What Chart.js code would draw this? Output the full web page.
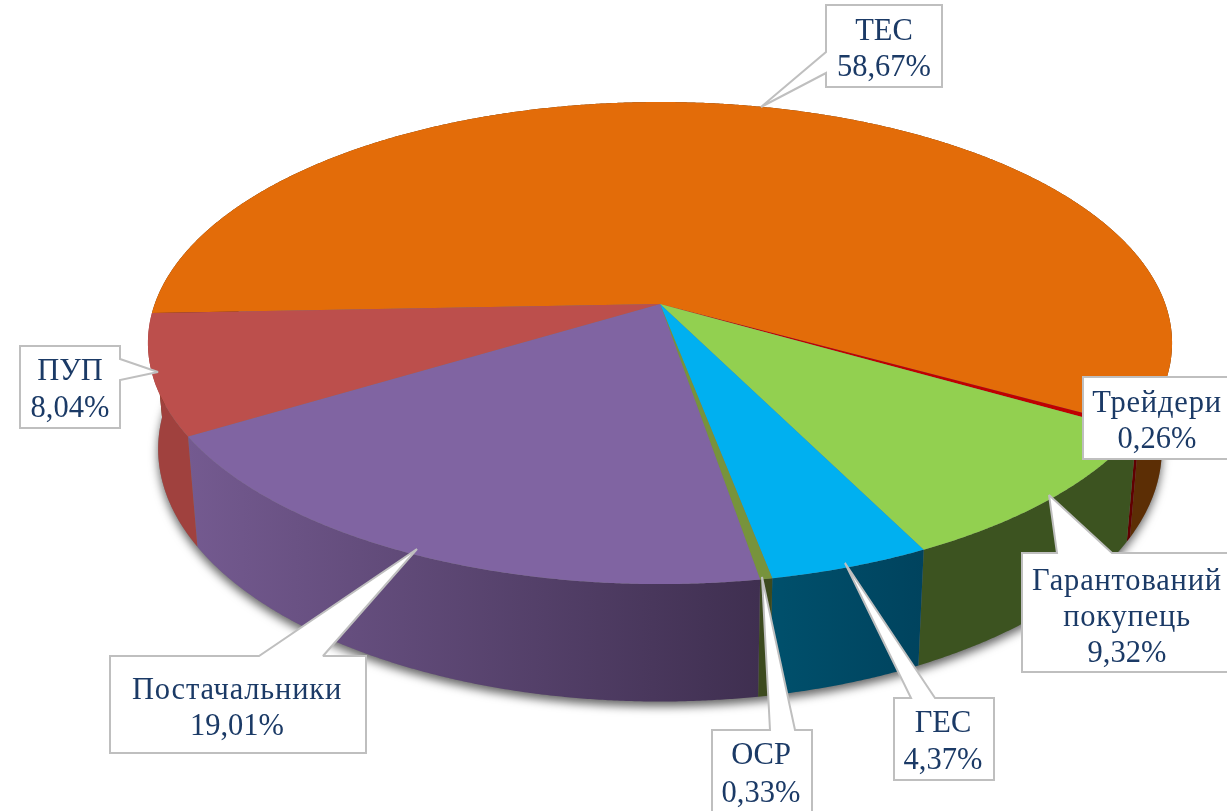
<!DOCTYPE html>
<html>
<head>
<meta charset="utf-8">
<style>html,body{margin:0;padding:0;background:#fff;overflow:hidden}canvas{display:block}</style>
<script src="https://cdn.jsdelivr.net/npm/chart.js@4"></script>
</head>
<body>
<canvas id="c" width="1227" height="811"></canvas>
<script>
const categories = ['ТЕС', 'Трейдери', 'Гарантований покупець', 'ГЕС', 'ОСР', 'Постачальники', 'ПУП'];
const shares = [58.67, 0.26, 9.32, 4.37, 0.33, 19.01, 8.04];
const topColors = ['#E36C09', '#C00000', '#92D050', '#00B0F0', '#77933C', '#8064A2', '#BC4F4C'];
const wallLeft = ['#5C2E05', '#600000', '#3C5320', '#00506C', '#3C4A1E', '#745A90', '#A0413E'];
const wallRight = ['#5C2E05', '#600000', '#3C5320', '#00435E', '#3C4A1E', '#3F2F50', '#A0413E'];

// Callout layout: box x0,y0,x1,y1; pointer tip; pointer base points; text centre; baselines
const callouts = [
  {box:[826,5,942,87], tip:[761,107], side:'l', base:[52,73], cx:884, lines:[40,76]},
  {box:[1083,377,1232,459], tip:null, cx:1157, lines:[412,448]},
  {box:[1022,553,1232,672], tip:[1049,495], side:'t', base:[1057,1112], cx:1127, lines:[590,626,662]},
  {box:[894,698,994,780], tip:[845,563], side:'t', base:[911,935], cx:943, lines:[732,769]},
  {box:[712,730,812,830], tip:[762,577], side:'t', base:[770,795], cx:761, lines:[764,802]},
  {box:[110,656,366,753], tip:[417,549], side:'t', base:[259,323], cx:237, lines:[699,735]},
  {box:[20,346,120,428], tip:[158,372], side:'r', base:[359,380], cx:70, lines:[380,417]}
];

// Perspective view of the disc
const CX = 660, CY = 304, A = 505.3, B = 234.7, K = 0.162;
function rim(t){
  const u = Math.cos(t), v = Math.sin(t), d = 1 - K * v;
  return [A * u / d, B * v / d];
}
const topPt = t => { const p = rim(t); return [CX + p[0], CY + p[1]]; };
const botPt = t => { const p = rim(t); return [CX + 0.98 * p[0], CY + 1.048 * p[1] + 104]; };
function arcPts(fn, a0, a1){
  const n = Math.max(2, Math.ceil(Math.abs(a1 - a0) / 0.005)), pts = [];
  for (let i = 0; i <= n; i++) pts.push(fn(a0 + (a1 - a0) * i / n));
  return pts;
}
function poly(ctx, pts){
  ctx.beginPath();
  pts.forEach((p, i) => i ? ctx.lineTo(p[0], p[1]) : ctx.moveTo(p[0], p[1]));
  ctx.closePath();
}

const perspectivePie = {
  id: 'perspectivePie',
  beforeDatasetsDraw(chart){
    const ctx = chart.ctx, arcs = chart.getDatasetMeta(0).data;
    ctx.save();
    // soft shadow under the base
    ctx.save();
    ctx.shadowColor = 'rgba(0,0,0,0.6)';
    ctx.shadowBlur = 10;
    ctx.shadowOffsetY = 5;
    ctx.fillStyle = '#777';
    poly(ctx, arcPts(botPt, 0, Math.PI * 2));
    ctx.fill();
    ctx.restore();
    // outer walls
    arcs.forEach((el, i) => {
      const a0 = el.startAngle, a1 = el.endAngle;
      const top = arcPts(topPt, a0, a1), bot = arcPts(botPt, a0, a1);
      const near = top.concat(bot).filter(p => p[1] > CY);
      const xs = near.map(p => p[0]);
      const g = ctx.createLinearGradient(Math.min(...xs), 0, Math.max(...xs), 0);
      g.addColorStop(0, wallLeft[i]);
      g.addColorStop(1, wallRight[i]);
      ctx.fillStyle = g;
      poly(ctx, top.concat(bot.reverse()));
      ctx.fill();
    });
    // top faces
    arcs.forEach(el => {
      ctx.fillStyle = el.options.backgroundColor;
      poly(ctx, [[CX, CY]].concat(arcPts(topPt, el.startAngle, el.endAngle)));
      ctx.fill();
    });
    // callouts
    callouts.forEach((c, i) => {
      const [x0, y0, x1, y1] = c.box;
      let pts = [[x0, y0], [x1, y0], [x1, y1], [x0, y1]];
      if (c.side === 't') pts = [[x0, y0], [c.base[0], y0], c.tip, [c.base[1], y0], [x1, y0], [x1, y1], [x0, y1]];
      if (c.side === 'l') pts = [[x0, y0], [x1, y0], [x1, y1], [x0, y1], [x0, c.base[1]], c.tip, [x0, c.base[0]]];
      if (c.side === 'r') pts = [[x0, y0], [x1, y0], [x1, c.base[0]], c.tip, [x1, c.base[1]], [x1, y1], [x0, y1]];
      poly(ctx, pts);
      ctx.fillStyle = '#fff';
      ctx.fill();
      ctx.strokeStyle = '#BFBFBF';
      ctx.lineWidth = 2;
      ctx.lineJoin = 'miter';
      ctx.miterLimit = 2;
      ctx.stroke();
      const names = categories[i].split(' ');
      const text = names.concat(String(shares[i].toFixed(2)).replace('.', ',') + '%');
      ctx.fillStyle = '#1B3A66';
      ctx.font = '30.5px "Liberation Serif"';
      ctx.textAlign = 'center';
      ctx.textBaseline = 'alphabetic';
      text.forEach((t, j) => {
        ctx.letterSpacing = (j < names.length && t.length > 3) ? '0.8px' : '0px';
        ctx.fillText(t, c.cx, c.lines[j]);
      });
      ctx.letterSpacing = '0px';
    });
    ctx.restore();
    return false;
  }
};

new Chart(document.getElementById('c'), {
  type: 'pie',
  data: { labels: categories, datasets: [{ data: shares, backgroundColor: topColors, borderWidth: 0 }] },
  options: {
    responsive: false,
    animation: false,
    rotation: 267.8,
    layout: { padding: 0 },
    plugins: { legend: { display: false }, tooltip: { enabled: false } }
  },
  plugins: [perspectivePie]
});
</script>
</body>
</html>
